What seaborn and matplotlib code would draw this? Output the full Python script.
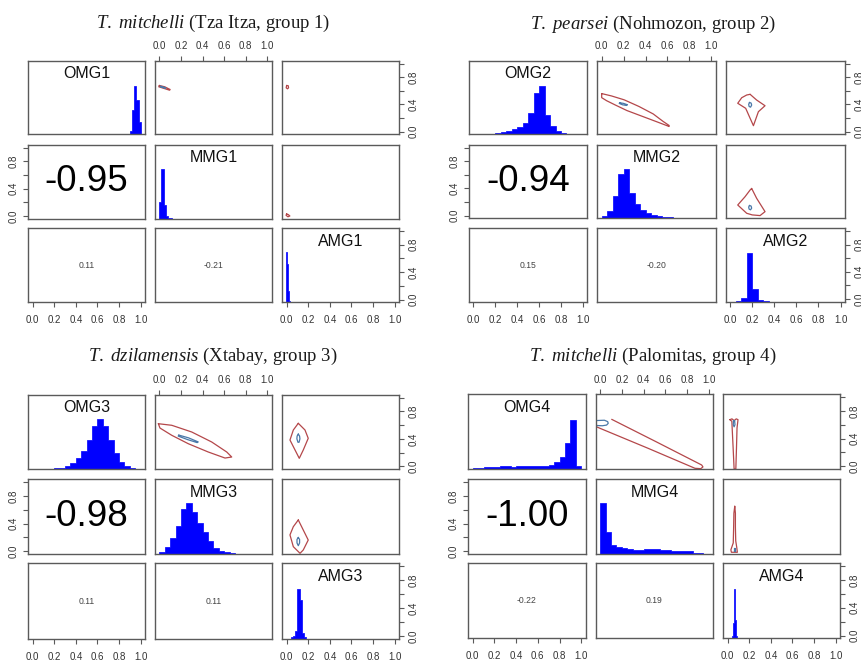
import matplotlib
matplotlib.use("Agg")
import matplotlib.pyplot as plt
import numpy as np
import pandas as pd
import seaborn as sns

# ---------------------------------------------------------------- data
TITLE_SPECIES = [r"T.\ mitchelli", r"T.\ pearsei", r"T.\ dzilamensis", r"T.\ mitchelli"]
TITLE_REST = ["(Tza Itza, group 1)", "(Nohmozon, group 2)", "(Xtabay, group 3)", "(Palomitas, group 4)"]
VARIABLES = ["OMG", "MMG", "AMG"]
CORR_OM = ["-0.95", "-0.94", "-0.98", "-1.00"]
CORR_OA = ["0.11", "0.15", "0.11", "-0.22"]
CORR_MA = ["-0.21", "-0.20", "0.11", "0.19"]

TICKS = [0.0, 0.2, 0.4, 0.6, 0.8, 1.0]
X_TICK_LABELS = ["0.0", "0.2", "0.4", "0.6", "0.8", "1.0"]
Y_TICK_LABELS = ["0.0", "", "0.4", "", "0.8", ""]

# histograms: first bin edge, bin width, bar heights (share of panel height)
OMG1_START, OMG1_WIDTH = 0.84, 0.02
OMG1_H = [0.004, 0.004, 0.004, 0.04, 0.33, 0.66, 0.47, 0.17]
MMG1_START, MMG1_WIDTH = 0.0, 0.02
MMG1_H = [0.23, 0.67, 0.18, 0.03, 0.01, 0.004]
AMG1_START, AMG1_WIDTH = -0.01, 0.01
AMG1_H = [0.68, 0.52, 0.15, 0.02]

OMG2_START, OMG2_WIDTH = 0.0, 0.05
OMG2_H = [0.004, 0.004, 0.004, 0.006, 0.012, 0.025, 0.045, 0.07, 0.105, 0.16,
          0.29, 0.57, 0.665, 0.27, 0.11, 0.04, 0.015, 0.006, 0.004, 0.004]
MMG2_START, MMG2_WIDTH = 0.0, 0.05
MMG2_H = [0.035, 0.105, 0.30, 0.61, 0.67, 0.35, 0.19, 0.11, 0.07, 0.045,
          0.03, 0.02, 0.014, 0.01, 0.007, 0.005, 0.004, 0.004, 0.004, 0.004]
AMG2_START, AMG2_WIDTH = 0.05, 0.05
AMG2_H = [0.008, 0.045, 0.67, 0.17, 0.02, 0.005]

OMG3_START, OMG3_WIDTH = 0.0, 0.05
OMG3_H = [0.004, 0.004, 0.004, 0.006, 0.01, 0.02, 0.04, 0.08, 0.15, 0.25,
          0.39, 0.58, 0.67, 0.58, 0.39, 0.21, 0.09, 0.035, 0.012, 0.004]
MMG3_START, MMG3_WIDTH = 0.0, 0.05
MMG3_H = [0.03, 0.095, 0.21, 0.37, 0.60, 0.685, 0.56, 0.42, 0.29, 0.17,
          0.075, 0.045, 0.025, 0.012, 0.006, 0.004, 0.004]
AMG3_START, AMG3_WIDTH = 0.04, 0.02
AMG3_H = [0.02, 0.04, 0.11, 0.66, 0.52, 0.08, 0.02, 0.005]

OMG4_START, OMG4_WIDTH = 0.0, 0.05
OMG4_H = [0.01, 0.02, 0.03, 0.03, 0.03, 0.035, 0.035, 0.03, 0.035, 0.045,
          0.04, 0.035, 0.035, 0.035, 0.05, 0.09, 0.16, 0.35, 0.66, 0.04]
MMG4_START, MMG4_WIDTH = 0.0, 0.05
MMG4_H = [0.68, 0.29, 0.125, 0.10, 0.08, 0.065, 0.06, 0.06, 0.065, 0.07,
          0.065, 0.06, 0.05, 0.045, 0.045, 0.04, 0.035, 0.02, 0.008, 0.004]
AMG4_START, AMG4_WIDTH = 0.04, 0.01
AMG4_H = [0.03, 0.20, 0.66, 0.25, 0.03]

# density contour outlines (x, y)
# OM: x = MMG, y = OMG ; OA: x = AMG, y = OMG ; MA: x = AMG, y = MMG
C1_OM_OUT = [(0.0, 0.68), (0.05, 0.66), (0.10, 0.62), (0.095, 0.61), (0.045, 0.635), (-0.005, 0.66), (0.0, 0.68)]
C1_OM_IN = [(0.01, 0.668), (0.06, 0.645), (0.055, 0.638), (0.01, 0.66), (0.01, 0.668)]
C1_OA_OUT = [(0.0, 0.68), (0.015, 0.675), (0.018, 0.645), (0.008, 0.63), (-0.004, 0.645), (0.0, 0.68)]
C1_OA_IN = []
C1_MA_OUT = [(0.0, 0.03), (0.015, 0.02), (0.03, 0.0), (0.012, -0.012), (-0.005, 0.01), (0.0, 0.03)]
C1_MA_IN = []

C2_OM_OUT = [(0.0, 0.56), (0.09, 0.525), (0.205, 0.468), (0.34, 0.37), (0.47, 0.26), (0.56, 0.15),
             (0.615, 0.09), (0.615, 0.075), (0.51, 0.14), (0.37, 0.225), (0.23, 0.31), (0.12, 0.395),
             (0.045, 0.455), (0.0, 0.50), (0.0, 0.56)]
C2_OM_IN = [(0.165, 0.425), (0.20, 0.415), (0.235, 0.395), (0.225, 0.385), (0.19, 0.395), (0.16, 0.415), (0.165, 0.425)]
C2_OA_OUT = [(0.181, 0.549), (0.24, 0.465), (0.316, 0.381), (0.256, 0.293), (0.211, 0.087), (0.181, 0.196),
             (0.141, 0.343), (0.069, 0.417), (0.105, 0.499), (0.15, 0.539), (0.181, 0.549)]
C2_OA_IN = [(0.175, 0.43), (0.19, 0.42), (0.195, 0.39), (0.185, 0.36), (0.172, 0.37), (0.168, 0.40), (0.175, 0.43)]
C2_MA_OUT = [(0.195, 0.40), (0.24, 0.255), (0.316, 0.058), (0.271, 0.0), (0.20, 0.01), (0.15, 0.034),
             (0.069, 0.156), (0.135, 0.278), (0.181, 0.377), (0.195, 0.40)]
C2_MA_IN = [(0.175, 0.15), (0.19, 0.14), (0.195, 0.11), (0.185, 0.085), (0.172, 0.095), (0.168, 0.125), (0.175, 0.15)]

C3_OM_OUT = [(-0.009, 0.621), (0.115, 0.598), (0.30, 0.50), (0.485, 0.354), (0.624, 0.208), (0.67, 0.135),
             (0.608, 0.12), (0.453, 0.208), (0.268, 0.329), (0.115, 0.452), (0.006, 0.558), (-0.009, 0.621)]
C3_OM_IN = [(0.18, 0.455), (0.27, 0.415), (0.36, 0.355), (0.35, 0.345), (0.26, 0.39), (0.175, 0.44), (0.18, 0.455)]
C3_OA_OUT = [(0.108, 0.627), (0.17, 0.529), (0.20, 0.408), (0.154, 0.237), (0.117, 0.116), (0.078, 0.237),
             (0.031, 0.383), (0.062, 0.529), (0.108, 0.627)]
C3_OA_IN = [(0.108, 0.47), (0.12, 0.44), (0.123, 0.40), (0.115, 0.35), (0.105, 0.35), (0.095, 0.40), (0.097, 0.44), (0.108, 0.47)]
C3_MA_OUT = [(0.108, 0.452), (0.154, 0.307), (0.20, 0.162), (0.154, 0.018), (0.124, -0.03), (0.062, 0.066),
             (0.031, 0.236), (0.062, 0.355), (0.108, 0.452)]
C3_MA_IN = [(0.108, 0.20), (0.12, 0.17), (0.12, 0.12), (0.108, 0.08), (0.096, 0.12), (0.096, 0.17), (0.108, 0.20)]

C4_OM_OUT = [(0.107, 0.678), (0.52, 0.35), (0.933, 0.018), (0.945, -0.01), (0.925, -0.035), (0.872, -0.03),
             (0.44, 0.26), (0.0, 0.548), (-0.04, 0.575)]
C4_OM_IN = [(-0.04, 0.66), (0.04, 0.665), (0.07, 0.645), (0.075, 0.62), (0.06, 0.595), (0.02, 0.585), (-0.04, 0.59)]
C4_OA_OUT = [(0.021, 0.673), (0.039, 0.65), (0.051, 0.264), (0.06, -0.04), (0.076, -0.04), (0.082, 0.264),
             (0.087, 0.553), (0.096, 0.673), (0.08, 0.685), (0.06, 0.66), (0.04, 0.685), (0.021, 0.673)]
C4_OA_IN = [(0.055, 0.66), (0.065, 0.66), (0.068, 0.60), (0.06, 0.57), (0.052, 0.60), (0.055, 0.66)]
C4_MA_OUT = [(0.066, 0.65), (0.058, 0.55), (0.055, 0.30), (0.052, 0.12), (0.03, 0.02), (0.035, -0.015),
             (0.09, -0.015), (0.085, 0.05), (0.075, 0.15), (0.072, 0.35), (0.072, 0.55), (0.066, 0.65)]
C4_MA_IN = [(0.06, 0.04), (0.07, 0.04), (0.07, 0.0), (0.06, 0.0), (0.06, 0.04)]

# ---------------------------------------------------------------- layout (pixels)
W, H = 861, 663
COL_PX = [[(28.3, 145), (155, 271.7), (282.3, 399)],
          [(469, 587.3), (597.3, 715.7), (725.7, 845)],
          [(28.3, 145), (155, 271.7), (282.3, 399)],
          [(468.3, 585.7), (595.7, 713.3), (723.3, 840)]]
ROW_PX = [[(61, 134.3), (145, 218.7), (228.3, 302.3)],
          [(61, 134.3), (145, 218.3), (228.3, 301.7)],
          [(395, 469), (479.3, 554), (563.3, 639)],
          [(394.3, 469), (479.3, 554), (563.3, 638.3)]]
TITLE_POS = [(213, 28.3), (653, 29.3), (213, 360.7), (653, 361)]

RED = "#b4474a"
BLUE_IN = "#4a78a8"
FRAME = "#5a5a5a"
TXT = "#333333"

sns.set_theme(style="white")
plt.rcParams["font.family"] = ["Liberation Sans", "DejaVu Sans"]
plt.rcParams["mathtext.fontset"] = "custom"
plt.rcParams["mathtext.it"] = "Liberation Serif:italic"
plt.rcParams["mathtext.rm"] = "Liberation Serif"

fig = plt.figure(figsize=(W / 100, H / 100), dpi=100)
fig.patch.set_facecolor("white")


def px_axes(xb, yb):
    x0, x1 = xb
    y0, y1 = yb
    return fig.add_axes([x0 / W, 1 - y1 / H, (x1 - x0) / W, (y1 - y0) / H])


def draw_hist(ax, start, width, heights):
    n = len(heights)
    centers = [start + width * (k + 0.5) for k in range(n)]
    df = pd.DataFrame({"x": centers, "w": list(heights)})
    sns.histplot(data=df, x="x", weights="w", binwidth=width,
                 binrange=(start, start + width * n), ax=ax, stat="count",
                 element="step", fill=True,
                 color="#0000FF", alpha=1.0, edgecolor="#0000FF", linewidth=0.5)


def draw_path(ax, pts, color, lw):
    if not pts:
        return
    df = pd.DataFrame({"x": [p[0] for p in pts], "y": [p[1] for p in pts]})
    sns.lineplot(data=df, x="x", y="y", sort=False, estimator=None, ax=ax,
                 color=color, linewidth=lw, legend=False)


def set_axis(ax, side):
    common = dict(length=3.4, width=0.8, color=FRAME, labelsize=7, labelcolor=TXT)
    if side in ("top", "bottom"):
        ax.set_xticks(TICKS)
        ax.set_xticklabels(X_TICK_LABELS)
        ax.tick_params(axis="x", top=(side == "top"), bottom=(side == "bottom"),
                       labeltop=(side == "top"), labelbottom=(side == "bottom"),
                       pad=(3.5 if side == "top" else 6.0), **common)
    else:
        ax.set_yticks(TICKS)
        ax.set_yticklabels(Y_TICK_LABELS, rotation=90, va="center")
        ax.tick_params(axis="y", left=(side == "left"), right=(side == "right"),
                       labelleft=(side == "left"), labelright=(side == "right"),
                       pad=3.5, **common)


hist_data = {
    (0, 0): (OMG1_START, OMG1_WIDTH, OMG1_H), (0, 1): (MMG1_START, MMG1_WIDTH, MMG1_H), (0, 2): (AMG1_START, AMG1_WIDTH, AMG1_H),
    (1, 0): (OMG2_START, OMG2_WIDTH, OMG2_H), (1, 1): (MMG2_START, MMG2_WIDTH, MMG2_H), (1, 2): (AMG2_START, AMG2_WIDTH, AMG2_H),
    (2, 0): (OMG3_START, OMG3_WIDTH, OMG3_H), (2, 1): (MMG3_START, MMG3_WIDTH, MMG3_H), (2, 2): (AMG3_START, AMG3_WIDTH, AMG3_H),
    (3, 0): (OMG4_START, OMG4_WIDTH, OMG4_H), (3, 1): (MMG4_START, MMG4_WIDTH, MMG4_H), (3, 2): (AMG4_START, AMG4_WIDTH, AMG4_H),
}
contours = {
    0: {(0, 1): (C1_OM_OUT, C1_OM_IN), (0, 2): (C1_OA_OUT, C1_OA_IN), (1, 2): (C1_MA_OUT, C1_MA_IN)},
    1: {(0, 1): (C2_OM_OUT, C2_OM_IN), (0, 2): (C2_OA_OUT, C2_OA_IN), (1, 2): (C2_MA_OUT, C2_MA_IN)},
    2: {(0, 1): (C3_OM_OUT, C3_OM_IN), (0, 2): (C3_OA_OUT, C3_OA_IN), (1, 2): (C3_MA_OUT, C3_MA_IN)},
    3: {(0, 1): (C4_OM_OUT, C4_OM_IN), (0, 2): (C4_OA_OUT, C4_OA_IN), (1, 2): (C4_MA_OUT, C4_MA_IN)},
}
lower_text = {(1, 0): CORR_OM, (2, 0): CORR_OA, (2, 1): CORR_MA}
axis_sides = {(0, 1): ["top"], (0, 2): ["right"], (1, 0): ["left"],
              (2, 0): ["bottom"], (2, 2): ["bottom", "right"]}

for g in range(4):
    for i in range(3):
        for j in range(3):
            xb, yb = COL_PX[g][j], ROW_PX[g][i]
            ax = px_axes(xb, yb)
            if i == j:
                s, w, h = hist_data[(g, i)]
                draw_hist(ax, s, w, h)
                ax.set_xlim(-0.04, 1.04)
                ax.set_ylim(0, 1)
            elif j > i:
                out, inn = contours[g][(i, j)]
                draw_path(ax, out, RED, 0.9)
                draw_path(ax, inn, BLUE_IN, 0.9)
                ax.set_xlim(-0.04, 1.04)
                ax.set_ylim(-0.04, 1.04)
            ax.axis("off")

            fr = px_axes(xb, yb)
            fr.set_facecolor("none")
            fr.set_xlim(-0.04, 1.04)
            fr.set_ylim(-0.04, 1.04)
            fr.set_xticks([])
            fr.set_yticks([])
            for sp in fr.spines.values():
                sp.set_visible(True)
                sp.set_color(FRAME)
                sp.set_linewidth(1.0)
            for side in axis_sides.get((i, j), []):
                set_axis(fr, side)

            if i == j:
                fr.text(0.5, 0.825, f"{VARIABLES[i]}{g + 1}", transform=fr.transAxes,
                        ha="center", va="center", fontsize=11.5, color="#111111")
            elif i > j:
                val = lower_text[(i, j)][g]
                if (i, j) == (1, 0):
                    fr.text(0.5, 0.5, val, transform=fr.transAxes, ha="center", va="center",
                            fontsize=26.5, color="#000000")
                else:
                    fr.text(0.5, 0.5, val, transform=fr.transAxes, ha="center", va="center",
                            fontsize=6.2, color="#444444")

    tx, ty = TITLE_POS[g]
    fig.text(tx / W, 1 - ty / H, r"$\mathit{" + TITLE_SPECIES[g] + "}$ " + TITLE_REST[g],
             ha="center", va="baseline", fontsize=13.5, family="Liberation Serif", color="#1a1a1a")

fig.savefig("out.png", dpi=100, facecolor="white")
